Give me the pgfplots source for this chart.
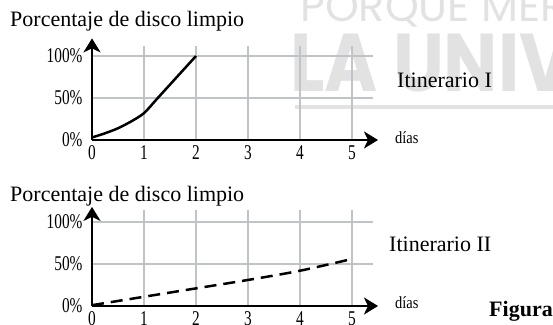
\documentclass[border=0pt]{standalone}
\usepackage{pgfplots}
\pgfplotsset{compat=1.18}
\usetikzlibrary{arrows.meta}
\usepackage{fontspec}
\setmainfont{Liberation Serif}
\newfontfamily\markfont{Poppins}
\definecolor{gridgray}{RGB}{192,196,201}
\definecolor{markgray}{RGB}{226,226,226}

% narrow tick figures
\newcommand{\tl}[1]{\scalebox{0.73}[1]{#1}}

\tikzset{gridline/.style={gridgray, line width=2.8pt}}

\pgfplotsset{
  diskaxis/.style={
    scale only axis, x=52pt, y=0.84pt,
    xmin=0, xmax=5.5, ymin=0,
    axis lines=left,
    axis on top=true,
    axis line style={line width=2.6pt, -{Stealth[length=14pt,width=17pt,inset=4pt]}},
    xtick={0,1,2,3,4,5}, ytick={0,50,100},
    xticklabels={\tl{0},\tl{1},\tl{2},\tl{3},\tl{4},\tl{5}},
    yticklabels={\tl{0\%},\tl{50\%},\tl{100\%}},
    major tick length=0pt,
    tick label style={font=\fontsize{21}{24}\selectfont},
    yticklabel style={xshift=-6pt},
    xticklabel style={yshift=-2pt},
    clip=false,
  },
}

\begin{document}
\begin{tikzpicture}
\useasboundingbox (0,0) rectangle (553pt,324pt);
\clip (0,0) rectangle (553pt,324pt);

% background watermark
\node[anchor=base west, inner sep=0pt, text=markgray,
      font=\markfont\fontsize{43}{46}\selectfont] at (300pt,302pt) {PORQUE MERECES};
\node[anchor=base west, inner sep=0pt, text=markgray,
      font=\markfont\bfseries\fontsize{82}{86}\selectfont] at (290pt,232pt) {\scalebox{0.88}[1]{LA UNIVERSIDAD}};
\fill[markgray] (295pt,215pt) rectangle (553pt,219pt);

% ---- Itinerario I ----
\node[anchor=base west, inner sep=0pt, font=\fontsize{22}{26}\selectfont]
  at (10pt,297pt) {Porcentaje de disco limpio};
\begin{axis}[diskaxis, ymax=121, at={(92pt,184pt)}, anchor=south west]
  \pgfplotsinvokeforeach{1,2,3,4,5}{\draw[gridline] (#1,0) -- (#1,112);}
  \draw[gridline] (0,50) -- (5.4,50);
  \draw[gridline] (0,100) -- (5.4,100);
  \addplot[black, line width=2.5pt, smooth, tension=0.5] coordinates {
    (0,3) (0.25,8) (0.5,14) (0.75,22) (1,32) (1.25,49) (1.5,66) (1.75,83) (2,100)
  };
\end{axis}
\node[anchor=base west, inner sep=0pt, font=\fontsize{22}{26}\selectfont]
  at (397pt,236.5pt) {Itinerario I};
\node[anchor=base west, inner sep=0pt, font=\fontsize{17}{20}\selectfont]
  at (395pt,180.7pt) {\scalebox{0.85}[1]{días}};

% ---- Itinerario II ----
\node[anchor=base west, inner sep=0pt, font=\fontsize{22}{26}\selectfont]
  at (10pt,123pt) {Porcentaje de disco limpio};
\begin{axis}[diskaxis, ymax=118, at={(92pt,18pt)}, anchor=south west]
  \pgfplotsinvokeforeach{1,2,3,4,5}{\draw[gridline] (#1,0) -- (#1,114);}
  \draw[gridline] (0,50) -- (5.4,50);
  \draw[gridline] (0,100) -- (5.4,100);
  \addplot[black, line width=2.5pt, dash pattern=on 12pt off 7pt, smooth] coordinates {
    (0,1) (1,11) (2,21) (3,31) (4,42) (5,56)
  };
\end{axis}
\node[anchor=base west, inner sep=0pt, font=\fontsize{22}{26}\selectfont]
  at (389pt,72.3pt) {Itinerario II};
\node[anchor=base west, inner sep=0pt, font=\fontsize{17}{20}\selectfont]
  at (395pt,15.7pt) {\scalebox{0.85}[1]{días}};
\node[anchor=base west, inner sep=0pt, font=\bfseries\fontsize{22}{26}\selectfont]
  at (489pt,8pt) {Figura};
\end{tikzpicture}
\end{document}
